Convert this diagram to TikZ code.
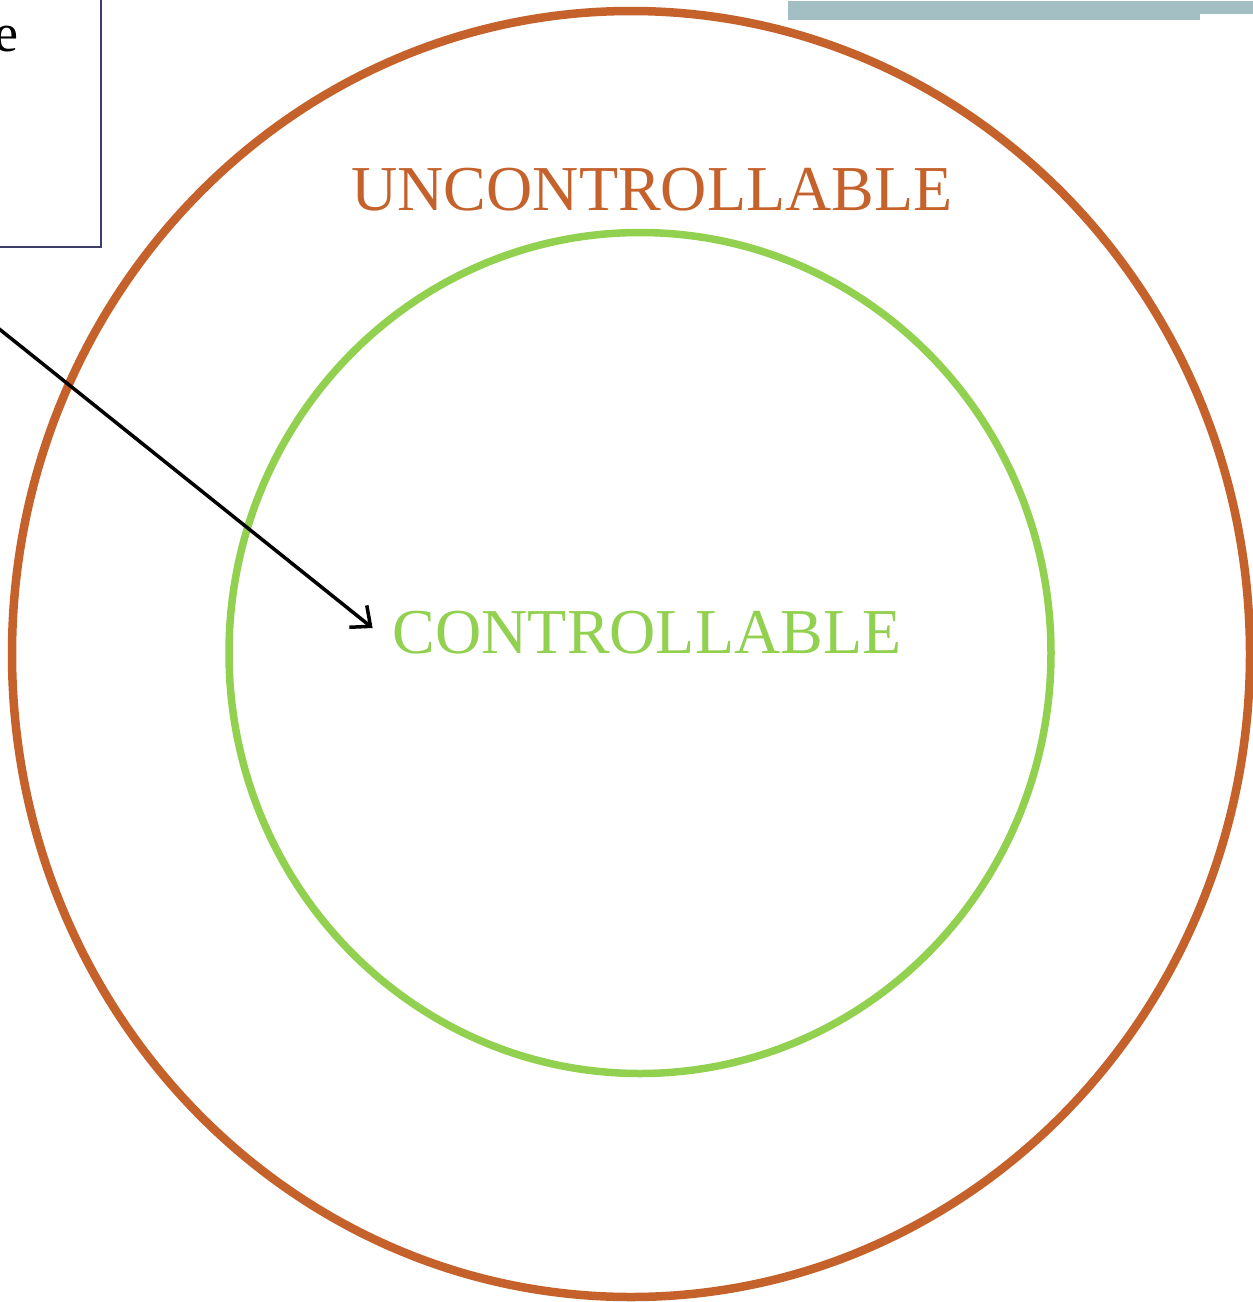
\documentclass[tikz,border=0pt]{standalone}
\usepackage{fontspec}
\setmainfont{Liberation Serif}
\usetikzlibrary{shapes.geometric, arrows.meta, positioning}
\definecolor{rustorange}{HTML}{C5622B}
\definecolor{leafgreen}{HTML}{92D050}
\definecolor{slategray}{HTML}{A3BFC3}
\definecolor{boxnavy}{HTML}{3D3D6B}

\begin{document}
\begin{tikzpicture}[
  x=1pt, y=-1pt,
  ring/.style={ellipse,draw,inner sep=0pt,line width=8.5pt},
  label/.style={font=\fontsize{64}{70}\selectfont,inner sep=0pt},
  pointer/.style={-{Straight Barb[length=16pt,width=28pt,line width=3.5pt]},line width=3.5pt}
]
  \useasboundingbox (0,0) rectangle (1253,1302);
  \clip (0,0) rectangle (1253,1302);

  % Header bar
  \fill[slategray] (788,1) rectangle (1200,20);
  \fill[slategray] (1200,1) rectangle (1253,14);

  % Note box (cut off at the corner)
  \draw[boxnavy, line width=1.5pt] (-20,-20) rectangle (101,247);
  \node[anchor=base east, font=\fontsize{54}{60}\selectfont, inner sep=0pt] (note) at (19,51) {e};

  % Rings
  \node[ring, draw=rustorange, minimum width=1238pt, minimum height=1286pt] (outer) at (631,654) {};
  \node[ring, draw=leafgreen, line width=7.5pt, minimum width=822pt, minimum height=841pt] (inner) at (640,653) {};

  % Labels
  \node[label, text=rustorange, anchor=base] (unctrl) at (652,210) {UNCONTROLLABLE};
  \node[label, text=leafgreen, anchor=base] (ctrl) at (647,653) {CONTROLLABLE};

  % Arrow
  \coordinate (start) at (-2,328);
  \draw[pointer] (start) -- ([xshift=-20pt,yshift=25pt]ctrl.base west);
\end{tikzpicture}
\end{document}
